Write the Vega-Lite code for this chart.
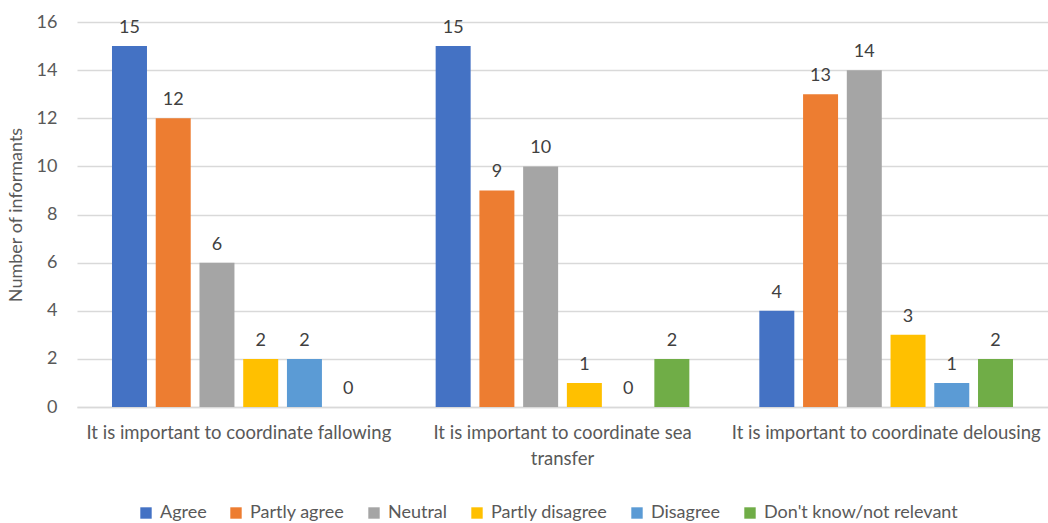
{
  "$schema": "https://vega.github.io/schema/vega-lite/v6.json",
  "width": 971,
  "height": 385,
  "autosize": {"type": "none"},
  "padding": {"left": 77, "right": 0, "top": 22, "bottom": 116},
  "background": "white",
  "config": {
    "view": {"stroke": null},
    "font": "Lato",
    "axis": {"labelFont": "Lato", "titleFont": "Lato"},
    "legend": {"labelFont": "Lato"}
  },
  "data": {
    "values": [
      {"statement": "It is important to coordinate fallowing", "response": "Agree", "count": 15},
      {"statement": "It is important to coordinate fallowing", "response": "Partly agree", "count": 12},
      {"statement": "It is important to coordinate fallowing", "response": "Neutral", "count": 6},
      {"statement": "It is important to coordinate fallowing", "response": "Partly disagree", "count": 2},
      {"statement": "It is important to coordinate fallowing", "response": "Disagree", "count": 2},
      {"statement": "It is important to coordinate fallowing", "response": "Don't know/not relevant", "count": 0},
      {"statement": "It is important to coordinate sea transfer", "response": "Agree", "count": 15},
      {"statement": "It is important to coordinate sea transfer", "response": "Partly agree", "count": 9},
      {"statement": "It is important to coordinate sea transfer", "response": "Neutral", "count": 10},
      {"statement": "It is important to coordinate sea transfer", "response": "Partly disagree", "count": 1},
      {"statement": "It is important to coordinate sea transfer", "response": "Disagree", "count": 0},
      {"statement": "It is important to coordinate sea transfer", "response": "Don't know/not relevant", "count": 2},
      {"statement": "It is important to coordinate delousing", "response": "Agree", "count": 4},
      {"statement": "It is important to coordinate delousing", "response": "Partly agree", "count": 13},
      {"statement": "It is important to coordinate delousing", "response": "Neutral", "count": 14},
      {"statement": "It is important to coordinate delousing", "response": "Partly disagree", "count": 3},
      {"statement": "It is important to coordinate delousing", "response": "Disagree", "count": 1},
      {"statement": "It is important to coordinate delousing", "response": "Don't know/not relevant", "count": 2}
    ]
  },
  "encoding": {
    "x": {
      "field": "statement",
      "type": "nominal",
      "sort": null,
      "scale": {"paddingInner": 0, "paddingOuter": 0},
      "axis": {
        "title": null,
        "labelAngle": 0,
        "labelFontSize": 18.5,
        "labelColor": "#595959",
        "labelPadding": 16,
        "labelLimit": 400,
        "ticks": false,
        "domainColor": "#d9d9d9",
        "domainWidth": 1.5,
        "labelExpr": "datum.label == 'It is important to coordinate sea transfer' ? ['It is important to coordinate sea', 'transfer'] : datum.label",
        "labelLineHeight": 26
      }
    },
    "xOffset": {
      "field": "response",
      "type": "nominal",
      "sort": ["Agree", "Partly agree", "Neutral", "Partly disagree", "Disagree", "Don't know/not relevant"],
      "scale": {"paddingInner": 0.2, "paddingOuter": 0.8}
    },
    "y": {
      "field": "count",
      "type": "quantitative",
      "scale": {"domain": [0, 16]},
      "axis": {
        "title": "Number of informants",
        "titleFontSize": 18,
        "titleFontWeight": "normal",
        "titleColor": "#595959",
        "titlePadding": 11,
        "values": [0, 2, 4, 6, 8, 10, 12, 14, 16],
        "labelFontSize": 18,
        "labelColor": "#595959",
        "labelPadding": 20,
        "domain": false,
        "ticks": false,
        "gridColor": "#d9d9d9",
        "gridWidth": 1.5
      }
    }
  },
  "layer": [
    {
      "mark": {"type": "bar"},
      "encoding": {
        "color": {
          "field": "response",
          "type": "nominal",
          "sort": ["Agree", "Partly agree", "Neutral", "Partly disagree", "Disagree", "Don't know/not relevant"],
          "scale": {
            "domain": ["Agree", "Partly agree", "Neutral", "Partly disagree", "Disagree", "Don't know/not relevant"],
            "range": ["#4472C4", "#ED7D31", "#A5A5A5", "#FFC000", "#5B9BD5", "#70AD47"]
          },
          "legend": {
            "title": null,
            "orient": "none",
            "legendX": 60,
            "legendY": 482,
            "direction": "horizontal",
            "symbolType": "square",
            "symbolSize": 130,
            "symbolStrokeWidth": 0,
            "labelFontSize": 18,
            "labelColor": "#595959",
            "columnPadding": 20,
            "labelOffset": 5,
            "labelLimit": 300
          }
        }
      }
    },
    {
      "mark": {"type": "text", "baseline": "bottom", "dy": -9, "fontSize": 18, "color": "#404040"},
      "encoding": {"text": {"field": "count", "type": "quantitative"}}
    }
  ]
}
